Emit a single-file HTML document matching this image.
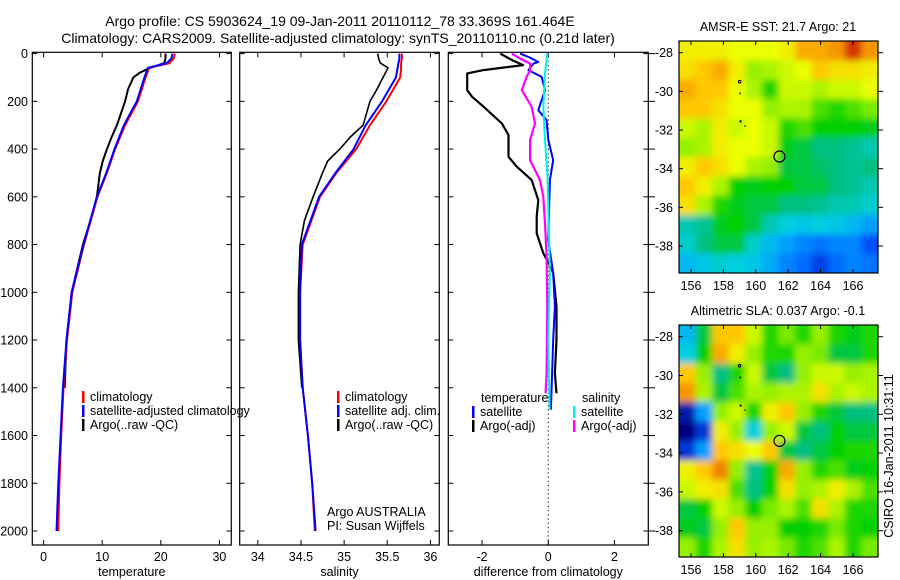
<!DOCTYPE html>
<html><head><meta charset="utf-8">
<style>
html,body{margin:0;padding:0;background:#fff;}
svg{display:block;font-family:"Liberation Sans",sans-serif;}
</style></head>
<body>
<svg id="fig" width="900" height="580" viewBox="0 0 900 580" xmlns="http://www.w3.org/2000/svg">
<defs>
<filter id="soft" x="-10%" y="-10%" width="120%" height="120%"><feGaussianBlur stdDeviation="3.5"/></filter>
<clipPath id="clipTop"><rect x="679" y="41" width="199" height="232"/></clipPath>
<clipPath id="clipBot"><rect x="679" y="325" width="199" height="232"/></clipPath>
</defs>
<text x="340" y="26" font-size="14" text-anchor="middle">Argo profile: CS 5903624_19 09-Jan-2011 20110112_78 33.369S 161.464E</text>
<text x="338" y="43" font-size="14" text-anchor="middle">Climatology: CARS2009. Satellite-adjusted climatology: synTS_20110110.nc (0.21d later)</text>
<g id="layer"></g>
</svg>
<script>
// ---------- data ----------
const depthTicks = [0,200,400,600,800,1000,1200,1400,1600,1800,2000];
const tempTicks = [0,10,20,30];
const salTicks = [34,34.5,35,35.5,36];
const salTickLabels = ["34","34.5","35","35.5","36"];
const diffTicks = [-2,0,2];

const climDepth = [0,20,40,60,100,200,300,400,500,600,800,1000,1200,1400,1600,1800,2000];
const tempClim = [22.4,22.2,21.5,18.0,17.4,16.1,13.9,12.2,10.8,9.2,6.9,4.9,4.0,3.4,3.0,2.7,2.5];
const tempSat  = [22.0,21.8,21.0,17.8,17.2,15.9,13.7,12.1,10.7,9.1,6.8,4.8,3.9,3.3,2.9,2.5,2.2];
const salClim  = [35.67,35.67,35.66,35.66,35.65,35.49,35.30,35.14,34.91,34.72,34.52,34.49,34.49,34.52,34.58,34.63,34.66];
const salSat   = [35.64,35.64,35.63,35.62,35.60,35.44,35.25,35.11,34.90,34.71,34.51,34.49,34.49,34.52,34.58,34.63,34.67];

const argoDepth = [0,20,40,60,80,100,150,200,300,350,400,450,500,600,700,800,1000,1200,1400];
const tempArgo  = [20.8,20.8,20.6,18.2,16.4,15.3,14.4,13.9,12.5,11.6,10.8,10.1,9.6,9.1,8.0,6.7,4.8,3.9,3.6];
const salArgo   = [35.39,35.40,35.42,35.51,35.48,35.45,35.38,35.30,35.22,35.07,34.95,34.81,34.75,34.64,34.54,34.49,34.47,34.47,34.51];

const dTempArgoDepth = [0,27,48,69,83,153,181,223,293,341,432,474,530,614,683,753,836,878,920,1060,1199,1339,1423];
const dTempArgo = [-1.45,-1.1,-0.76,-1.96,-2.45,-2.45,-2.3,-1.95,-1.4,-1.2,-1.2,-0.95,-0.5,-0.3,-0.35,-0.35,-0.15,0.01,0.15,0.25,0.25,0.2,0.25];
const dTempSatDepth = [0,14,35,42,69,97,153,237,279,362,446,530,781,920,1060,1199,1492];
const dTempSat = [-0.85,-0.6,-0.3,-0.45,-0.6,-0.2,-0.1,-0.3,-0.05,0.0,0.15,0.05,0.0,0.15,0.2,0.15,0.08];
const dSalArgoDepth = [0,21,42,69,97,153,223,293,362,446,530,600,711,850,1060,1339,1423];
const dSalArgo = [-1.1,-0.85,-0.55,-0.55,-0.65,-0.8,-0.5,-0.4,-0.55,-0.55,-0.25,-0.15,-0.1,-0.05,-0.03,-0.05,-0.08];
const dSalSatDepth = [0,83,223,362,502,642,920,1199,1492];
const dSalSat = [-0.03,-0.1,-0.15,-0.1,-0.03,0.0,0.05,0.0,0.04];

const lonTicks = [156,158,160,162,164,166];
const latTicks = [-28,-30,-32,-34,-36,-38];
const sstGrid = [
[0.8,0.8,0.8,0.78,0.78,0.78,0.8,0.88,0.88,0.9,0.97,0.9],
[0.82,0.85,0.88,0.8,0.7,0.72,0.75,0.78,0.85,0.82,0.82,0.8],
[0.88,0.85,0.85,0.78,0.72,0.62,0.75,0.75,0.72,0.75,0.75,0.78],
[0.85,0.85,0.82,0.78,0.78,0.7,0.72,0.72,0.65,0.62,0.65,0.68],
[0.75,0.72,0.8,0.75,0.78,0.75,0.62,0.65,0.6,0.6,0.6,0.58],
[0.7,0.72,0.8,0.78,0.78,0.75,0.58,0.55,0.5,0.5,0.48,0.45],
[0.8,0.85,0.82,0.78,0.72,0.7,0.55,0.55,0.52,0.5,0.48,0.5],
[0.85,0.8,0.72,0.6,0.58,0.6,0.6,0.55,0.55,0.5,0.48,0.45],
[0.82,0.72,0.62,0.58,0.55,0.55,0.5,0.5,0.48,0.45,0.45,0.42],
[0.45,0.48,0.58,0.6,0.55,0.45,0.4,0.38,0.4,0.38,0.35,0.3],
[0.42,0.5,0.55,0.55,0.42,0.35,0.3,0.25,0.22,0.25,0.25,0.15],
[0.35,0.38,0.42,0.4,0.38,0.32,0.25,0.2,0.12,0.2,0.25,0.22]];
const slaGrid = [
[0.35,0.55,0.85,0.85,0.75,0.62,0.68,0.62,0.7,0.62,0.58,0.62],
[0.4,0.6,0.88,0.8,0.7,0.62,0.62,0.7,0.68,0.55,0.55,0.62],
[0.85,0.7,0.5,0.62,0.75,0.55,0.5,0.7,0.75,0.75,0.7,0.72],
[0.9,0.72,0.55,0.65,0.72,0.7,0.72,0.72,0.82,0.72,0.75,0.72],
[0.05,0.3,0.7,0.75,0.62,0.8,0.85,0.7,0.62,0.55,0.5,0.5],
[0.0,0.1,0.8,0.7,0.4,0.7,0.75,0.55,0.5,0.6,0.55,0.55],
[0.1,0.3,0.85,0.82,0.78,0.85,0.55,0.5,0.55,0.6,0.62,0.62],
[0.8,0.85,0.92,0.7,0.48,0.6,0.88,0.7,0.62,0.65,0.58,0.6],
[0.75,0.8,0.82,0.65,0.5,0.6,0.82,0.7,0.72,0.8,0.72,0.65],
[0.55,0.6,0.75,0.7,0.6,0.68,0.72,0.65,0.82,0.72,0.62,0.62],
[0.58,0.55,0.7,0.85,0.7,0.7,0.6,0.6,0.62,0.68,0.62,0.6],
[0.7,0.62,0.72,0.82,0.7,0.72,0.68,0.62,0.65,0.72,0.62,0.68]];
const profileLon = [161.46];
const profileLat = [-33.37];

// ---------- helpers ----------
const NS="http://www.w3.org/2000/svg";
const layer=document.getElementById('layer');
function mk(tag,attrs,parent){const e=document.createElementNS(NS,tag);for(const k in attrs)e.setAttribute(k,attrs[k]);(parent||layer).appendChild(e);return e;}
const yD = d => 53.6 + d*0.2387;
const panels = [
 {x0:32.3,x1:231.3,v0:-1.93,scale:5.86,name:'temperature'},
 {x0:239.7,x1:439.3,v0:33.79,scale:86.3,name:'salinity'},
 {x0:448.3,x1:648.3,v0:-3.02,scale:33.1,name:'difference'}
];
function xf(p,v){return p.x0+(v-p.v0)*p.scale;}
const TOP=52.3,BOT=545;

function frame(p,ticks,labels,name){
  const g=mk('g',{});
  
  
  mk('rect',{x:p.x0,y:TOP,width:p.x1-p.x0,height:BOT-TOP,fill:'none',stroke:'#000','stroke-width':1.2},g);
  ticks.forEach((t,i)=>{const x=xf(p,t);
    mk('line',{x1:x,x2:x,y1:BOT,y2:BOT-5,stroke:'#000'},g);
    mk('line',{x1:x,x2:x,y1:TOP,y2:TOP+5,stroke:'#000'},g);
    const tx=mk('text',{x:x,y:BOT+16,'font-size':12.5,'text-anchor':'middle'},g);tx.textContent=labels[i];
    
    
  });
  depthTicks.forEach(d=>{const y=yD(d);
    mk('line',{x1:p.x0,x2:p.x0+5,y1:y,y2:y,stroke:'#000'},g);
    mk('line',{x1:p.x1,x2:p.x1-5,y1:y,y2:y,stroke:'#000'},g);
  });
  const xl=mk('text',{x:(p.x0+p.x1)/2,y:BOT+31,'font-size':12.5,'text-anchor':'middle'},g);
  xl.textContent=name==='difference'?'difference from climatology':name;
  
  
}
frame(panels[0],tempTicks,tempTicks.map(String),'temperature');
frame(panels[1],salTicks,salTickLabels,'salinity');
frame(panels[2],diffTicks,diffTicks.map(String),'difference');
depthTicks.forEach(d=>{
  const t=mk('text',{x:28,y:yD(d)+4.5,'font-size':12.5,'text-anchor':'end'});t.textContent=String(d);
  
  
  mk('line',{x1:648.3,x2:655,y1:yD(d),y2:yD(d),stroke:'#000'});
});
mk('line',{x1:xf(panels[2],0),x2:xf(panels[2],0),y1:TOP,y2:BOT,stroke:'#000','stroke-dasharray':'1.2,3','stroke-width':1});

function line(p,depths,vals,color,w,name){
  const pts=depths.map((d,i)=>xf(p,vals[i]).toFixed(1)+','+yD(d).toFixed(1)).join(' ');
  const l=mk('polyline',{points:pts,fill:'none',stroke:color,'stroke-width':w,'stroke-linejoin':'round'});
  
  
}
line(panels[0],argoDepth,tempArgo,'#000',2,'temp-argo-line');
line(panels[0],climDepth,tempClim,'#f00',2,'temp-climatology-line');
line(panels[0],climDepth,tempSat,'#00f',2,'temp-satellite-line');
line(panels[1],argoDepth,salArgo,'#000',1.6,'sal-argo-line');
line(panels[1],climDepth,salClim,'#f00',2,'sal-climatology-line');
line(panels[1],climDepth,salSat,'#00f',2,'sal-satellite-line');
line(panels[2],dTempArgoDepth,dTempArgo,'#000',2.2,'diff-temp-argo-line');
line(panels[2],dTempSatDepth,dTempSat,'#00f',2,'diff-temp-satellite-line');
line(panels[2],dSalArgoDepth,dSalArgo,'#f0f',2.2,'diff-sal-argo-line');
line(panels[2],dSalSatDepth,dSalSat,'#0ee','2','diff-sal-satellite-line');

function legend(x,y,color,label,name){
  mk('rect',{x:x,y:y-10,width:2.5,height:12,fill:color});
  const t=mk('text',{x:x+8,y:y,'font-size':12.5});t.textContent=label;
  
  
}
legend(82,401,'#f00','climatology','legend-climatology');
legend(82,415,'#00f','satellite-adjusted climatology','legend-satellite-adjusted');
legend(82,429,'#000','Argo(..raw -QC)','legend-argo');
legend(337,401,'#f00','climatology','legend-sal-climatology');
legend(337,415,'#00f','satellite adj. clim.','legend-sal-satellite');
legend(337,429,'#000','Argo(..raw -QC)','legend-sal-argo');
let t1=mk('text',{x:481,y:402,'font-size':12.5});t1.textContent='temperature';


let t2=mk('text',{x:582,y:402,'font-size':12.5});t2.textContent='salinity';


legend(472,416,'#00f','satellite','legend-diff-temp-satellite');
legend(472,430,'#000','Argo(-adj)','legend-diff-temp-argo');
legend(573,416,'#0ee','satellite','legend-diff-sal-satellite');
legend(573,430,'#f0f','Argo(-adj)','legend-diff-sal-argo');
let a1=mk('text',{x:327,y:516,'font-size':12.5});a1.textContent='Argo AUSTRALIA';


let a2=mk('text',{x:327,y:530,'font-size':12.5});a2.textContent='PI: Susan Wijffels';



// ---------- maps ----------
const stops=[[0,[0,0,128]],[0.15,[0,80,255]],[0.3,[0,160,255]],[0.4,[0,208,224]],[0.5,[0,192,128]],[0.6,[0,208,0]],[0.7,[150,240,0]],[0.78,[235,255,0]],[0.85,[255,200,0]],[0.92,[240,130,0]],[1,[200,0,0]]];
function cmap(v){v=Math.max(0,Math.min(1,v));for(let i=1;i<stops.length;i++){if(v<=stops[i][0]){const a=stops[i-1],b=stops[i],f=(v-a[0])/(b[0]-a[0]);return 'rgb('+a[1].map((c,k)=>Math.round(c+(b[1][k]-c)*f)).join(',')+')';}}return 'rgb(200,0,0)';}
function map(top,bot,lat28y,lat38y,grid,title,name,clip){
  const X0=679,X1=878,lonX=l=>691+(l-156)*16.2;const latY=l=>lat28y+(-28-l)*(lat38y-lat28y)/10;
  const g=mk('g',{});
  
  
  const cg=mk('g',{'clip-path':'url(#'+clip+')'},g);
  const bg=mk('g',{filter:'url(#soft)'},cg);
  const rows=grid.length,cols=grid[0].length,cw=(X1-X0)/cols,ch=(bot-top)/rows;
  grid.forEach((r,i)=>r.forEach((v,j)=>{
    let x=X0+j*cw,y=top+i*ch,w=cw+0.6,h=ch+0.6;
    if(j===0){x-=12;w+=12;} if(j===cols-1){w+=12;}
    if(i===0){y-=12;h+=12;} if(i===rows-1){h+=12;}
    const c=mk('rect',{x:x.toFixed(2),y:y.toFixed(2),width:w.toFixed(2),height:h.toFixed(2),fill:cmap(v)},bg);
    
    
  }));
  mk('rect',{x:X0,y:top,width:X1-X0,height:bot-top,fill:'none',stroke:'#000','stroke-width':1.2},g);
  lonTicks.forEach(l=>{const x=lonX(l);mk('line',{x1:x,x2:x,y1:top,y2:top+4,stroke:'#000'},g);mk('line',{x1:x,x2:x,y1:bot,y2:bot-4,stroke:'#000'},g);
    const t=mk('text',{x:x,y:bot+17,'font-size':12.5,'text-anchor':'middle'},g);t.textContent=String(l);
    
    });
  latTicks.forEach(l=>{const y=latY(l);mk('line',{x1:X0,x2:X0+4,y1:y,y2:y,stroke:'#000'},g);mk('line',{x1:X1,x2:X1+5,y1:y,y2:y,stroke:'#000'},g);
    const t=mk('text',{x:673,y:y+4.5,'font-size':12.5,'text-anchor':'end'},g);t.textContent=String(l);
    
    });
  const c=mk('circle',{cx:lonX(profileLon[0]),cy:latY(profileLat[0]),r:5.5,fill:'none',stroke:'#000','stroke-width':1.2},g);
  
  
  mk('circle',{cx:lonX(159),cy:latY(-29.5),r:1.3,fill:'none',stroke:'#000'},g);
  mk('rect',{x:lonX(159),y:latY(-30.05),width:1.2,height:2,fill:'#000'},g);
  mk('rect',{x:lonX(159),y:latY(-31.5),width:2,height:2,fill:'#000'},g);
  mk('rect',{x:lonX(159.3),y:latY(-31.75),width:1.2,height:1.5,fill:'#000'},g);
  const tt=mk('text',{x:778,y:top-10,'font-size':12.5,'text-anchor':'middle'},g);tt.textContent=title;
  
  
}
map(41,273,52.7,246,sstGrid,'AMSR-E SST: 21.7 Argo: 21','sst-map','clipTop');
map(325,557,336.7,530.7,slaGrid,'Altimetric SLA: 0.037 Argo: -0.1','sla-map','clipBot');
const cs=mk('text',{x:0,y:0,'font-size':12.5,'text-anchor':'middle',transform:'translate(893,456) rotate(-90)'});
cs.textContent='CSIRO 16-Jan-2011 10:31:11';


</script>
</body></html>
